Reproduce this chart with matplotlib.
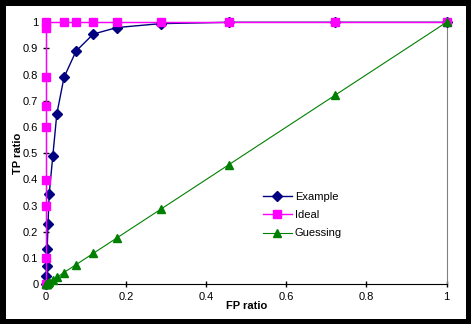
import matplotlib
matplotlib.use('Agg')
import matplotlib.pyplot as plt
from matplotlib.patches import Rectangle

plt.rcParams['font.family'] = ['Liberation Sans', 'DejaVu Sans']

# FP / TP ratios
exampleX = [0, 0.001, 0.002, 0.003, 0.005, 0.008, 0.017, 0.027, 0.045, 0.075, 0.118, 0.177, 0.287, 0.457, 0.722, 1]
exampleY = [0, 0.03, 0.07, 0.135, 0.23, 0.345, 0.49, 0.65, 0.79, 0.89, 0.955, 0.98, 0.995, 1, 1, 1]

idealX = [0, 0, 0, 0, 0, 0, 0, 0, 0, 0.045, 0.075, 0.118, 0.177, 0.287, 0.457, 0.722, 1]
idealY = [0, 0.1, 0.3, 0.4, 0.6, 0.68, 0.79, 0.98, 1, 1, 1, 1, 1, 1, 1, 1, 1]

guessX = [0, 0.001, 0.002, 0.003, 0.005, 0.008, 0.017, 0.027, 0.045, 0.075, 0.118, 0.177, 0.287, 0.457, 0.722, 1]
guessY = [0, 0.001, 0.002, 0.003, 0.005, 0.008, 0.017, 0.027, 0.045, 0.075, 0.118, 0.177, 0.287, 0.457, 0.722, 1]

xticks = [0, 0.2, 0.4, 0.6, 0.8, 1]
xlabels = ['0', '0.2', '0.4', '0.6', '0.8', '1']
yticks = [0, 0.1, 0.2, 0.3, 0.4, 0.5, 0.6, 0.7, 0.8, 0.9, 1]
ylabels = ['0', '0.1', '0.2', '0.3', '0.4', '0.5', '0.6', '0.7', '0.8', '0.9', '1']

fig = plt.figure(figsize=(4.71, 3.24), dpi=100)
fig.patch.set_facecolor('black')
fig.patches.append(Rectangle((6/471, 5/324), 460/471, 313/324, transform=fig.transFigure,
                             facecolor='white', edgecolor='none', zorder=-5))

ax = fig.add_axes([46/471, 39.7/324, 400.5/471, 262/324])
ax.set_facecolor('white')

ax.plot(exampleX, exampleY, color='#000080', marker='D', markersize=5, linewidth=1,
        label='Example', clip_on=False, zorder=3)
ax.plot(idealX, idealY, color='#FF00FF', marker='s', markersize=5.5, linewidth=1,
        label='Ideal', clip_on=False, zorder=4)
ax.plot(guessX, guessY, color='#008000', marker='^', markersize=6, linewidth=0.8,
        label='Guessing', clip_on=False, zorder=5)

ax.set_xlim(0, 1)
ax.set_ylim(0, 1)
ax.set_xticks(xticks)
ax.set_xticklabels(xlabels)
ax.set_yticks(yticks)
ax.set_yticklabels(ylabels)
ax.tick_params(direction='inout', length=5, width=1, labelsize=8, colors='black', pad=3)

for s in ['top', 'right']:
    ax.spines[s].set_color('#808080')
for s in ['left', 'bottom']:
    ax.spines[s].set_color('black')

ax.set_xlabel('FP ratio', fontsize=8, fontweight='bold', labelpad=-1)
ax.set_ylabel('TP ratio', fontsize=8, fontweight='bold', labelpad=0)

leg = ax.legend(loc='upper left', bbox_to_anchor=(0.53, 0.37), frameon=False, fontsize=8,
                handlelength=2.6, handletextpad=0.3, labelspacing=0.75, borderaxespad=0)

fig.savefig('out.png', dpi=100, facecolor=fig.get_facecolor())
